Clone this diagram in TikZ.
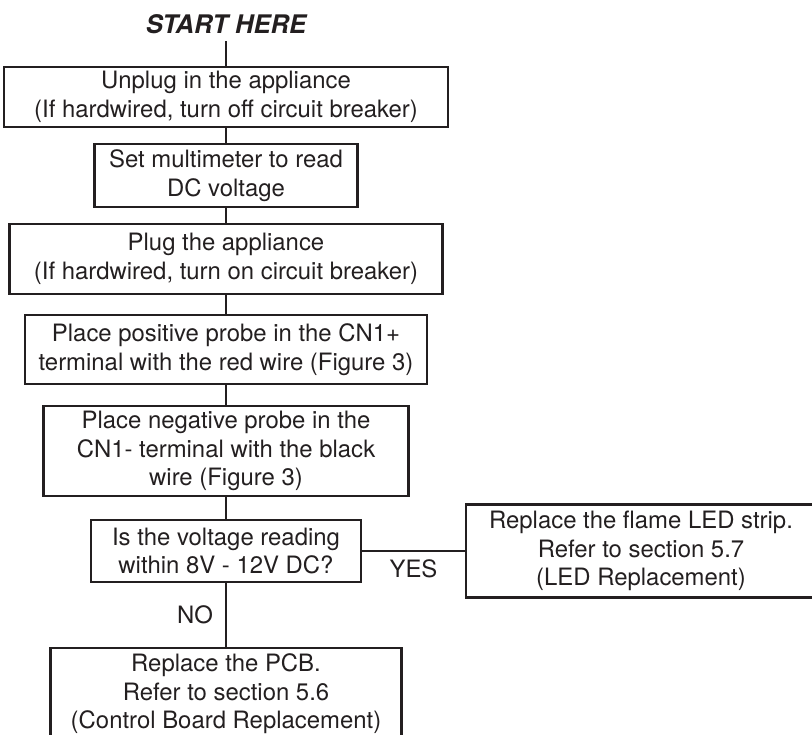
\documentclass[tikz,border=0pt]{standalone}
\usepackage{fontspec}
\setmainfont{TeX Gyre Heros}
\usepackage{tikz}
\definecolor{ink}{HTML}{231F20}

\begin{document}
\begin{tikzpicture}[x=0.025cm, y=-0.025cm, line width=1.9pt, draw=ink,
    stepbox/.style={draw=ink, rectangle, align=center, inner sep=0pt, text=ink,
        font=\fontsize{17pt}{20.2pt}\selectfont},
    answer/.style={text=ink, font=\fontsize{17pt}{20pt}\selectfont}]
\useasboundingbox (0,0) rectangle (812,735);
\node[text=ink, font=\fontsize{18.2pt}{20pt}\selectfont\bfseries\itshape, inner sep=4.5pt] (start) at (226,24) {START HERE};
\node[stepbox, minimum width=11.1cm, minimum height=1.5cm] (unplug) at (226,97) {Unplug in the appliance\\(If hardwired, turn off circuit breaker)};
\node[stepbox, minimum width=6.575cm, minimum height=1.575cm] (meter) at (226,175.5) {Set multimeter to read\\DC voltage};
\node[stepbox, minimum width=10.825cm, minimum height=1.75cm] (plug) at (226,259) {Plug the appliance\\(If hardwired, turn on circuit breaker)};
\node[stepbox, minimum width=10.05cm, minimum height=1.725cm] (posprobe) at (226,349.5) {Place positive probe in the CN1+\\terminal with the red wire (Figure 3)};
\node[stepbox, minimum width=9.125cm, minimum height=2.25cm] (negprobe) at (226,451) {Place negative probe in the\\CN1- terminal with the black\\wire (Figure 3)};
\node[stepbox, minimum width=6.75cm, minimum height=1.55cm] (check) at (226,551) {Is the voltage reading\\within 8V - 12V DC?};
\node[stepbox, minimum width=8.75cm, minimum height=2.325cm] (led) at (641,551) {Replace the flame LED strip.\\Refer to section 5.7\\(LED Replacement)};
\node[stepbox, minimum width=8.775cm, minimum height=2.3cm] (pcb) at (226,694) {Replace the PCB.\\Refer to section 5.6\\(Control Board Replacement)};
\draw (start.south) -- (unplug.north);
\draw (unplug) -- (meter);
\draw (meter) -- (plug);
\draw (plug) -- (posprobe);
\draw (posprobe) -- (negprobe);
\draw (negprobe) -- (check);
\draw (check) -- node[answer, below=2pt] {YES} (led);
\draw (check) -- node[answer, left=5pt] {NO} (pcb);
\end{tikzpicture}
\end{document}
